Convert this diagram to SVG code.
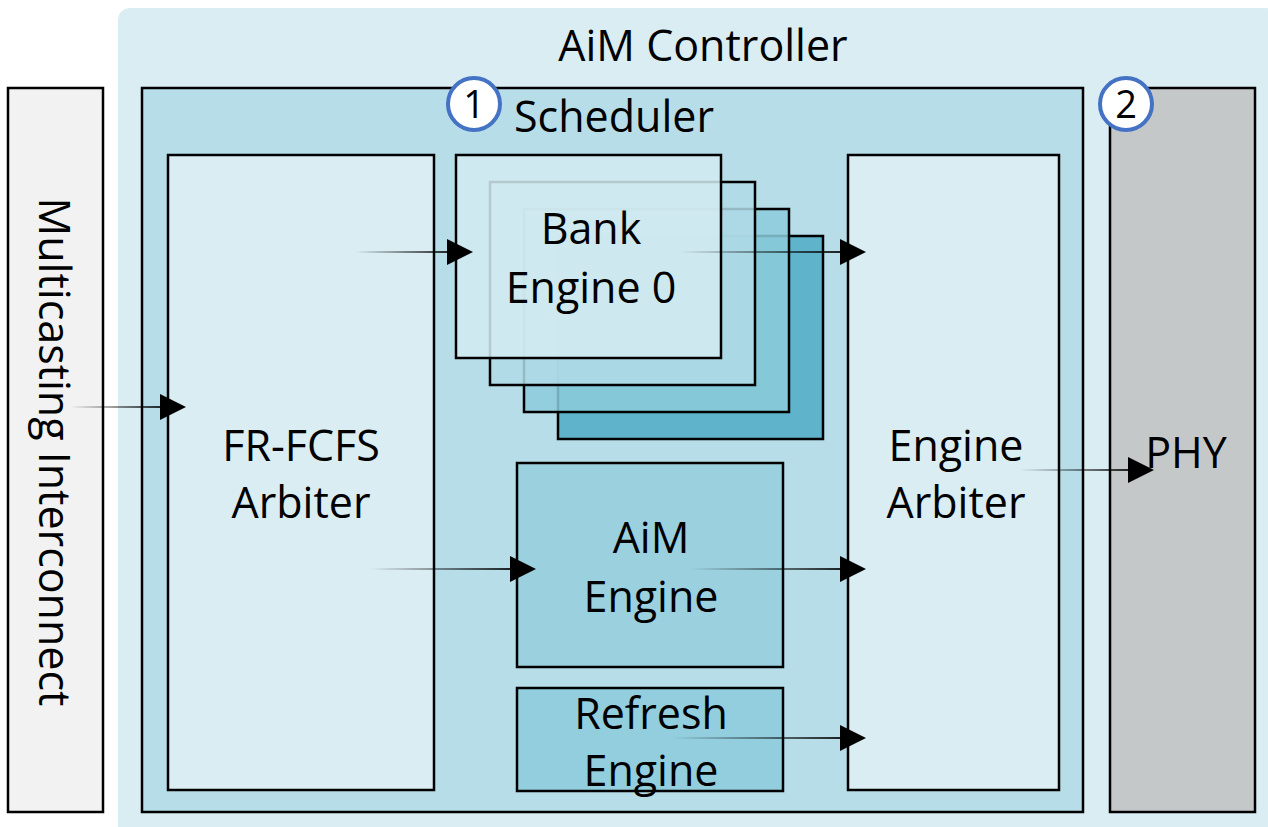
<svg xmlns="http://www.w3.org/2000/svg" width="1268" height="827" viewBox="0 0 1268 827">
<style>
.t{font-family:"Open Sans","Liberation Sans",sans-serif;font-size:43px;fill:#000;text-anchor:middle}
.box{stroke:#000;stroke-width:2.5}
.ah{fill:#000}
.num{fill:#fff;stroke:#4472c4;stroke-width:4}
</style>
<defs>
<linearGradient id="g" x1="0" y1="0" x2="1" y2="0">
<stop offset="0" stop-color="#000" stop-opacity="0"/>
<stop offset="1" stop-color="#000" stop-opacity="0.9"/>
</linearGradient>
</defs>
<rect x="0" y="0" width="1268" height="827" fill="#fff"/>
<g id="controller">
<rect x="118" y="8" width="1160" height="830" rx="12" fill="#daedf3"/>
<text class="t" x="703" y="61">AiM Controller</text>
</g>
<g id="interconnect">
<rect class="box" x="8" y="88" width="95" height="724" fill="#f2f2f2"/>
<text class="t" transform="translate(39,452) rotate(90)">Multicasting Interconnect</text>
</g>
<g id="scheduler">
<rect class="box" x="142" y="88" width="941" height="724" fill="#b7dde8"/>
<text class="t" x="614" y="132">Scheduler</text>
</g>
<g id="phy">
<rect class="box" x="1110" y="88" width="145" height="724" fill="#c5c8c9"/>
<text class="t" x="1186" y="468">PHY</text>
</g>
<g id="frfcfs">
<rect class="box" x="168" y="155" width="266" height="635" fill="#daedf3"/>
<text class="t" x="301" y="461">FR-FCFS</text>
<text class="t" x="301" y="518">Arbiter</text>
</g>
<g id="bank-engines">
<rect class="box" x="558" y="236" width="265" height="203" fill="#5fb3cb"/>
<rect class="box" x="524" y="209" width="265" height="203" fill="#8ccbdb" fill-opacity="0.85"/>
<rect class="box" x="490" y="182" width="265" height="203" fill="#b0dae6" fill-opacity="0.85"/>
<rect class="box" x="456" y="155" width="265" height="203" fill="#d4ebf1" fill-opacity="0.85"/>
<text class="t" x="591" y="244">Bank</text>
<text class="t" x="591" y="303">Engine 0</text>
</g>
<g id="aim-engine">
<rect class="box" x="517" y="463" width="266" height="204" fill="#9bd1df"/>
<text class="t" x="651" y="553">AiM</text>
<text class="t" x="651" y="612">Engine</text>
</g>
<g id="refresh-engine">
<rect class="box" x="517" y="688" width="266" height="103" fill="#92cedd"/>
<text class="t" x="651" y="729">Refresh</text>
<text class="t" x="651" y="786">Engine</text>
</g>
<g id="engine-arbiter">
<rect class="box" x="848" y="155" width="211" height="635" fill="#daedf3"/>
<text class="t" x="956" y="461">Engine</text>
<text class="t" x="956" y="518">Arbiter</text>
</g>
<g id="badges">
<circle class="num" cx="474" cy="104" r="26"/>
<text class="t" x="474" y="118" style="font-size:38px">1</text>
<circle class="num" cx="1126" cy="104" r="26"/>
<text class="t" x="1126" y="118" style="font-size:38px">2</text>
</g>
<g id="connectors">
<rect x="70" y="406" width="100" height="2" fill="url(#g)"/>
<polygon class="ah" points="160,394 186,407 160,420"/>
<rect x="355" y="251" width="102" height="2" fill="url(#g)"/>
<polygon class="ah" points="447,239 473,252 447,265"/>
<rect x="680" y="251" width="170" height="2" fill="url(#g)"/>
<polygon class="ah" points="840,239 866,252 840,265"/>
<rect x="370" y="568" width="150" height="2" fill="url(#g)"/>
<polygon class="ah" points="510,556 536,569 510,582"/>
<rect x="690" y="568" width="160" height="2" fill="url(#g)"/>
<polygon class="ah" points="840,556 866,569 840,582"/>
<rect x="672" y="737" width="178" height="2" fill="url(#g)"/>
<polygon class="ah" points="840,725 866,738 840,751"/>
<rect x="1020" y="469" width="118" height="2" fill="url(#g)"/>
<polygon class="ah" points="1128,457 1154,470 1128,483"/>
</g>
</svg>
